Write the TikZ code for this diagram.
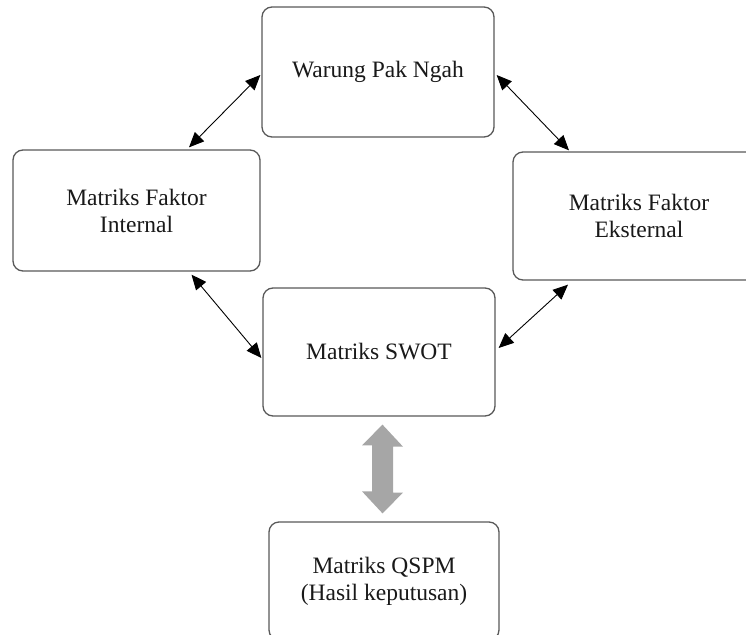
\documentclass[tikz,border=0pt]{standalone}
\usepackage{fontspec}
\setmainfont{Liberation Serif}
\usetikzlibrary{arrows.meta}
\tikzset{
  box/.style={draw=black!65, line width=1.3pt, rounded corners=10pt, fill=white,
    align=center, text=black!90, inner sep=0pt,
    font=\fontsize{23.5}{27}\selectfont},
  link/.style={line width=0.9pt, {Triangle[length=15pt,width=13pt]}-{Triangle[length=15pt,width=13pt]}},
  bigarrow/.style={draw=none, fill=black!35}
}
\begin{document}
\begin{tikzpicture}[x=1pt,y=-1pt]
\useasboundingbox (0,0) rectangle (746,634);
\node[box, minimum width=232pt, minimum height=130pt] (top) at (378,72) {Warung Pak Ngah};
\node[box, minimum width=247pt, minimum height=121pt] (lb) at (136.5,210.5) {Matriks Faktor\\Internal};
\node[box, minimum width=252pt, minimum height=128pt] (rb) at (639,216) {Matriks Faktor\\Eksternal};
\node[box, minimum width=232pt, minimum height=128pt] (swot) at (379,352) {Matriks SWOT};
\node[box, minimum width=230pt, minimum height=118pt] (qspm) at (384,581) {Matriks QSPM\\(Hasil keputusan)};
\draw[link] ([xshift=52.5pt,yshift=2pt]lb.north) -- ([xshift=-1pt,yshift=-3pt]top.west);
\draw[link] ([xshift=2pt,yshift=-3pt]top.east) -- ([xshift=-70pt,yshift=1pt]rb.north);
\draw[link] ([xshift=55pt,yshift=-3pt]lb.south) -- ([xshift=-1pt,yshift=-6pt]swot.west);
\draw[link] ([xshift=3pt,yshift=4pt]swot.east) -- ([xshift=-71pt,yshift=-4pt]rb.south);
\coordinate (ga) at ([xshift=3.5pt,yshift=-8pt]swot.south);
\coordinate (gb) at ([xshift=-1.5pt,yshift=8pt]qspm.north);
\fill[bigarrow] (ga) -- ++(20.5,22) -- ++(-10,0) -- ++(0,46) -- ++(10,0) -- (gb)
  -- ++(-20.5,-22) -- ++(10,0) -- ++(0,-46) -- ++(-10,0) -- cycle;
\end{tikzpicture}
\end{document}
